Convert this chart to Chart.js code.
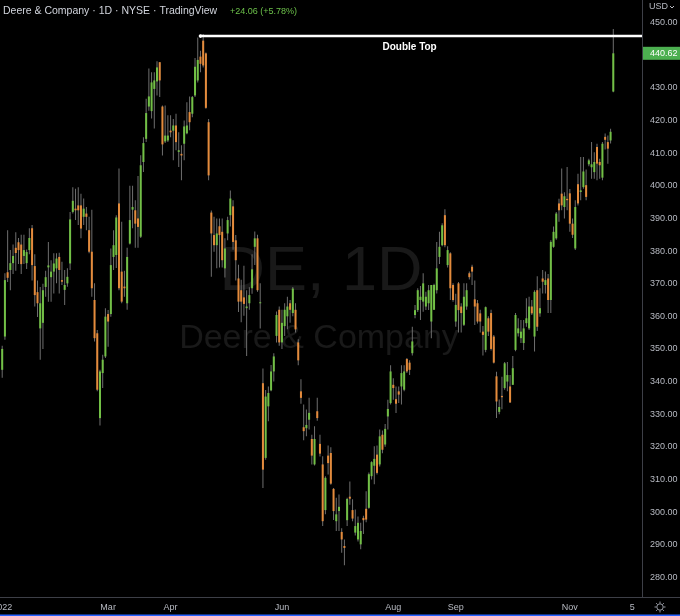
<!DOCTYPE html>
<html><head><meta charset="utf-8">
<script src="https://cdn.jsdelivr.net/npm/chart.js@4.4.0/dist/chart.umd.min.js"></script>
<style>html,body{margin:0;padding:0;background:#000;overflow:hidden}#wrap{width:680px;height:616px;position:relative}canvas{display:block}</style>
</head><body><div id="wrap"><canvas id="c" width="680" height="616"></canvas></div>
<script>
// ---- DATA ----
const dates = [
'2022-01-03','2022-01-04','2022-01-05','2022-01-06','2022-01-07','2022-01-10','2022-01-11','2022-01-12','2022-01-13','2022-01-14','2022-01-18','2022-01-19','2022-01-20','2022-01-21','2022-01-24','2022-01-25','2022-01-26','2022-01-27','2022-01-28','2022-01-31',
'2022-02-01','2022-02-02','2022-02-03','2022-02-04','2022-02-07','2022-02-08','2022-02-09','2022-02-10','2022-02-11','2022-02-14','2022-02-15','2022-02-16','2022-02-17','2022-02-18','2022-02-22','2022-02-23','2022-02-24','2022-02-25','2022-02-28',
'2022-03-01','2022-03-02','2022-03-03','2022-03-04','2022-03-07','2022-03-08','2022-03-09','2022-03-10','2022-03-11','2022-03-14','2022-03-15','2022-03-16','2022-03-17','2022-03-18','2022-03-21','2022-03-22','2022-03-23','2022-03-24','2022-03-25','2022-03-28','2022-03-29','2022-03-30','2022-03-31',
'2022-04-01','2022-04-04','2022-04-05','2022-04-06','2022-04-07','2022-04-08','2022-04-11','2022-04-12','2022-04-13','2022-04-14','2022-04-18','2022-04-19','2022-04-20','2022-04-21','2022-04-22','2022-04-25','2022-04-26','2022-04-27','2022-04-28','2022-04-29',
'2022-05-02','2022-05-03','2022-05-04','2022-05-05','2022-05-06','2022-05-09','2022-05-10','2022-05-11','2022-05-12','2022-05-13','2022-05-16','2022-05-17','2022-05-18','2022-05-19','2022-05-20','2022-05-23','2022-05-24','2022-05-25','2022-05-26','2022-05-27','2022-05-31',
'2022-06-01','2022-06-02','2022-06-03','2022-06-06','2022-06-07','2022-06-08','2022-06-09','2022-06-10','2022-06-13','2022-06-14','2022-06-15','2022-06-16','2022-06-17','2022-06-21','2022-06-22','2022-06-23','2022-06-24','2022-06-27','2022-06-28','2022-06-29','2022-06-30',
'2022-07-01','2022-07-05','2022-07-06','2022-07-07','2022-07-08','2022-07-11','2022-07-12','2022-07-13','2022-07-14','2022-07-15','2022-07-18','2022-07-19','2022-07-20','2022-07-21','2022-07-22','2022-07-25','2022-07-26','2022-07-27','2022-07-28','2022-07-29',
'2022-08-01','2022-08-02','2022-08-03','2022-08-04','2022-08-05','2022-08-08','2022-08-09','2022-08-10','2022-08-11','2022-08-12','2022-08-15','2022-08-16','2022-08-17','2022-08-18','2022-08-19','2022-08-22','2022-08-23','2022-08-24','2022-08-25','2022-08-26','2022-08-29','2022-08-30','2022-08-31',
'2022-09-01','2022-09-02','2022-09-06','2022-09-07','2022-09-08','2022-09-09','2022-09-12','2022-09-13','2022-09-14','2022-09-15','2022-09-16','2022-09-19','2022-09-20','2022-09-21','2022-09-22','2022-09-23','2022-09-26','2022-09-27','2022-09-28','2022-09-29','2022-09-30',
'2022-10-03','2022-10-04','2022-10-05','2022-10-06','2022-10-07','2022-10-10','2022-10-11','2022-10-12','2022-10-13','2022-10-14','2022-10-17','2022-10-18','2022-10-19','2022-10-20','2022-10-21','2022-10-24','2022-10-25','2022-10-26','2022-10-27','2022-10-28','2022-10-31',
'2022-11-01','2022-11-02','2022-11-03','2022-11-04','2022-11-07','2022-11-08','2022-11-09','2022-11-10','2022-11-11','2022-11-14','2022-11-15','2022-11-16','2022-11-17','2022-11-18','2022-11-21','2022-11-22','2022-11-23'
];
// empty future sessions shown at the right of the time axis
const futureDates = ['2022-11-25','2022-11-28','2022-11-29','2022-11-30','2022-12-01','2022-12-02','2022-12-05','2022-12-06','2022-12-07','2022-12-08','2022-12-09'];

const open = [
343.6,353.8,373.5,374.2,376.3,381.0,382.7,382.0,378.5,376.3,380.3,387.0,375.4,367.4,356.3,358.0,369.0,375.0,372.0,373.7,
374.7,378.2,371.1,368.1,370.1,376.2,392.0,393.0,394.0,394.0,390.5,391.5,386.4,379.8,365.0,354.8,328.8,342.6,347.7,
360.7,360.7,378.2,378.8,394.6,373.7,369.1,364.0,382.3,392.7,392.5,390.0,384.4,407.3,414.4,424.3,422.9,429.7,432.0,437.9,424.3,413.6,413.9,
416.9,416.9,418.5,410.4,409.8,412.9,416.1,422.6,422.1,427.7,432.3,439.6,444.5,440.6,419.5,391.8,384.9,381.8,387.6,385.9,
374.7,385.4,391.0,393.7,383.3,371.6,368.0,365.8,362.5,364.0,368.6,381.3,383.9,364.0,339.5,316.6,332.4,337.3,343.1,354.0,362.0,
352.0,357.0,360.0,364.0,361.0,362.0,352.0,337.0,326.0,325.7,328.3,322.4,314.6,330.9,320.9,314.6,300.6,317.3,318.1,307.1,297.2,
300.3,293.9,289.6,297.5,304.7,300.6,293.7,291.6,290.1,298.2,301.0,301.3,311.0,314.2,317.6,314.6,323.7,320.7,329.3,333.4,
339.0,334.6,337.0,338.5,337.5,346.9,345.8,348.7,360.4,361.9,365.0,364.5,363.0,364.0,358.4,362.0,368.0,378.2,381.8,391.0,375.7,379.3,369.6,
358.4,370.1,363.0,357.4,363.0,373.2,375.2,365.2,364.0,360.9,355.3,349.7,359.4,361.0,353.8,341.6,330.7,335.6,338.0,340.0,338.5,
339.0,349.7,354.8,353.3,351.8,357.9,356.3,363.0,353.8,368.0,360.9,371.6,369.6,371.6,365.0,381.3,383.9,394.6,397.6,393.5,396.0,
397.7,388.4,380.8,400.5,398.1,399.6,400.2,406.6,405.7,404.2,411.9,407.3,402.5,415.0,413.4,413.9,428.9
];
const high = [
351.0,373.2,386.4,380.3,382.0,385.8,384.0,385.0,385.0,380.5,387.0,388.0,379.0,371.0,369.0,370.0,374.0,382.8,377.2,379.3,
379.3,379.5,376.7,374.2,374.7,392.0,399.6,399.1,399.6,397.6,396.1,393.5,390.5,392.7,370.1,355.8,343.6,348.2,362.5,
361.9,380.8,386.4,391.0,405.3,389.0,374.0,381.0,400.0,400.0,395.6,403.0,409.4,414.9,426.7,436.0,434.8,434.8,438.2,437.9,424.6,424.6,421.6,
421.6,420.5,422.1,416.4,412.4,420.0,425.6,427.4,427.5,439.2,445.5,441.4,446.5,440.9,420.5,392.4,390.5,390.0,390.0,390.0,
383.9,390.5,398.6,395.6,384.9,375.8,371.2,375.5,368.0,368.9,379.0,386.0,385.0,370.1,344.0,337.4,338.5,345.1,348.7,361.5,363.0,
362.0,364.0,366.0,365.0,369.0,364.0,353.0,340.7,333.0,331.4,335.0,323.7,326.3,335.0,323.7,317.1,311.0,320.4,319.9,307.4,304.4,
305.4,295.0,291.6,304.4,309.4,303.9,300.8,298.6,296.7,298.9,306.4,312.1,315.6,320.2,320.4,325.3,325.0,327.0,334.4,345.0,
341.0,338.5,338.5,345.0,345.0,347.2,346.5,356.8,363.5,368.6,369.3,373.2,367.5,369.6,369.6,370.0,382.8,385.9,388.5,392.8,381.5,379.6,370.1,
366.9,370.5,364.0,370.1,370.1,373.7,375.8,371.0,365.0,362.0,357.0,363.0,360.0,362.0,354.3,343.0,334.5,341.5,346.0,346.0,342.0,
347.8,361.0,359.4,358.9,358.9,365.5,366.0,365.0,368.0,372.3,368.6,374.2,373.7,373.0,383.3,387.5,392.0,396.0,405.3,398.0,405.8,
399.0,390.0,395.6,403.7,408.8,408.8,405.0,408.3,413.4,410.3,412.9,408.3,413.4,416.0,415.4,417.5,448.1
];
const low = [
341.2,352.8,370.5,368.0,373.0,374.0,376.0,373.0,376.0,374.5,379.0,371.0,363.0,359.8,346.7,350.0,366.0,364.5,364.5,367.0,
370.1,367.0,369.6,363.5,369.1,374.2,391.5,389.5,388.0,383.9,388.0,386.4,379.3,366.0,352.3,337.0,326.5,338.0,347.2,
350.7,359.9,374.2,374.8,368.0,364.0,366.0,362.0,382.0,387.0,381.0,381.0,384.0,404.2,413.4,423.0,420.6,417.6,427.7,427.2,409.3,413.1,413.4,
414.9,407.8,410.9,405.8,401.7,407.8,415.8,417.0,421.0,427.2,431.7,434.8,436.3,423.6,401.7,372.1,379.8,374.7,375.0,375.0,
371.9,383.3,387.5,380.4,371.0,361.3,358.2,360.2,347.8,362.0,366.9,375.7,367.5,356.3,307.4,316.0,327.8,337.0,340.0,352.0,351.0,
350.0,354.0,356.0,358.0,360.0,355.0,345.0,333.2,322.0,323.2,325.3,314.6,314.3,328.0,317.0,295.7,299.3,311.5,308.4,297.6,294.2,
294.2,287.5,283.7,295.7,302.2,297.2,292.8,291.0,288.6,293.3,296.9,301.0,310.0,308.5,311.5,314.0,318.0,320.0,325.3,333.0,
334.4,330.4,333.4,333.0,337.0,342.6,342.0,348.0,359.4,361.3,358.9,361.4,361.9,361.9,353.3,362.0,367.0,376.0,381.5,381.2,375.0,365.0,364.5,
356.8,355.0,355.0,357.0,362.0,371.3,369.6,357.3,357.8,355.0,348.0,349.0,354.0,349.5,345.5,328.8,330.0,331.5,337.5,337.0,333.4,
339.0,349.3,353.8,351.8,349.7,356.8,355.8,360.4,349.2,355.5,359.9,367.0,367.0,361.0,361.0,381.0,383.5,389.0,392.5,390.0,392.5,
385.9,384.0,380.3,394.0,395.6,399.1,395.6,406.0,402.2,402.2,401.7,402.2,401.7,411.1,406.8,413.0,428.7
];
const close = [
350.0,371.1,371.8,376.3,378.5,379.4,380.3,376.0,380.3,379.7,384.0,375.7,366.5,364.0,364.0,368.0,372.0,375.6,373.7,376.2,
377.7,374.2,370.6,369.6,372.1,389.7,395.4,392.5,392.5,386.9,393.0,390.5,379.8,368.6,353.3,337.5,343.1,346.7,359.9,
358.4,375.7,381.8,390.3,368.6,364.5,368.6,378.2,389.5,393.5,388.4,387.4,406.3,413.1,422.3,427.4,431.7,432.3,436.3,432.3,412.7,415.4,415.4,
416.4,418.5,413.4,410.9,409.3,418.2,418.5,419.5,427.2,436.5,438.6,437.4,436.9,423.9,403.2,385.4,381.8,385.4,384.9,377.2,
380.8,389.5,396.1,382.8,377.2,364.5,364.5,363.8,363.0,366.5,374.4,383.9,368.0,364.3,313.0,335.4,336.5,343.1,347.7,360.4,352.0,
358.0,362.0,363.0,362.0,368.5,356.0,346.5,335.0,324.8,326.7,330.4,317.3,322.4,328.8,317.9,297.2,310.5,315.0,308.7,300.3,299.3,
301.6,291.6,289.0,304.0,304.1,298.0,295.7,296.7,294.2,297.5,297.7,311.6,315.3,316.3,312.0,323.2,319.1,325.5,331.6,343.1,
338.0,333.2,336.0,342.6,343.1,343.1,343.6,352.3,361.9,368.0,366.0,370.1,366.0,368.0,369.6,369.6,374.7,381.3,387.9,381.8,380.3,368.6,365.0,
363.5,361.9,361.0,366.0,368.0,372.0,373.7,363.0,358.4,358.4,354.3,362.8,355.3,350.0,345.8,333.9,332.2,335.2,345.6,342.0,333.6,
344.1,360.4,356.3,355.3,356.3,359.4,363.0,360.9,367.5,356.8,362.5,370.6,371.1,365.0,382.8,385.9,391.5,392.5,394.0,396.8,395.6,
388.4,385.0,393.5,394.6,398.6,404.4,396.6,407.8,406.6,407.3,406.8,406.3,412.9,414.1,411.4,416.56,440.62
];

const xTickDates  = ['2022-01-03','2022-03-01','2022-04-01','2022-06-01','2022-08-01','2022-09-01','2022-11-01','2022-12-05'];
const xTickLabels = ['2022','Mar','Apr','Jun','Aug','Sep','Nov','5'];
const yTickValues = [280,290,300,310,320,330,340,350,360,370,380,390,400,410,420,430,440,450];

const titleText = 'Deere & Company · 1D · NYSE · TradingView';
const watermarkSymbol = 'DE, 1D';
const watermarkName = 'Deere & Company';
const doubleTopStart = '2022-04-19';
const doubleTopLevel = 445.9;
const doubleTopText = 'Double Top';
const doubleTopLabelDate = '2022-08-09';

// ---- STYLE ----
const UP = '#72c046', DOWN = '#e48b3c', WICK = '#6e6e6e';
const AXIS_LINE = '#3d3f47', AXIS_TEXT = '#b7bac2';
const FONT = '"Liberation Sans", Arial, sans-serif';

const axisDates = dates.concat(futureDates);
const idx = d => axisDates.indexOf(d);
const xTickIdx = xTickDates.map(idx);
const last = close.length - 1;
const chg = close[last] - close[last - 1];
const chgPct = chg / close[last - 1] * 100;
const changeText = (chg >= 0 ? '+' : '') + chg.toFixed(2) + ' (' + (chg >= 0 ? '+' : '') + chgPct.toFixed(2) + '%)';

const wickData = dates.map((d, i) => ({x: i, y: [low[i], high[i]]}));
const bodyData = dates.map((d, i) => ({x: i, y: [open[i], close[i]]}));

const decor = {
  id: 'decor',
  beforeDatasetsDraw(chart) {
    const {ctx, chartArea: a} = chart;
    const cx = (a.left + a.right) / 2;
    ctx.save();
    ctx.fillStyle = '#191919';
    ctx.textAlign = 'center';
    ctx.textBaseline = 'alphabetic';
    ctx.font = '63px ' + FONT;
    ctx.fillText(watermarkSymbol, cx, 290);
    ctx.font = '34px ' + FONT;
    ctx.fillText(watermarkName, cx - 2, 348);
    ctx.restore();
  },
  afterDraw(chart) {
    const {ctx, chartArea: a, scales} = chart;
    const xs = scales.x, ys = scales.y;
    ctx.save();
    // title
    ctx.textBaseline = 'alphabetic';
    ctx.textAlign = 'left';
    ctx.font = '10.5px ' + FONT;
    ctx.fillStyle = '#d1d4dc';
    ctx.fillText(titleText, 3, 14);
    ctx.font = '9px ' + FONT;
    ctx.fillStyle = '#6cc04a';
    ctx.fillText(changeText, 230, 14);
    // double top label
    const ly = ys.getPixelForValue(doubleTopLevel);
    ctx.font = 'bold 10px ' + FONT;
    ctx.fillStyle = '#ffffff';
    ctx.textAlign = 'center';
    ctx.fillText(doubleTopText, xs.getPixelForValue(idx(doubleTopLabelDate)), ly + 14);
    // bottom axis line across
    ctx.fillStyle = AXIS_LINE;
    ctx.fillRect(0, a.bottom, chart.width, 1);
    // last price label
    const py = ys.getPixelForValue(close[last]);
    ctx.fillStyle = '#4caf50';
    ctx.fillRect(a.right + 1, py - 6.5, chart.width - a.right - 1, 13);
    ctx.fillStyle = '#ffffff';
    ctx.textAlign = 'left';
    ctx.textBaseline = 'middle';
    ctx.font = '9px ' + FONT;
    ctx.fillText(close[last].toFixed(2), a.right + 8, py + 0.5);
    // currency
    ctx.fillStyle = AXIS_TEXT;
    ctx.fillText('USD', a.right + 7, 7);
    ctx.strokeStyle = AXIS_TEXT;
    ctx.lineWidth = 1;
    ctx.beginPath();
    ctx.moveTo(a.right + 28, 6); ctx.lineTo(a.right + 30, 8); ctx.lineTo(a.right + 32, 6);
    ctx.stroke();
    // gear icon
    const gx = 660, gy = 607;
    ctx.strokeStyle = '#9598a1';
    ctx.beginPath(); ctx.arc(gx, gy, 3.2, 0, Math.PI * 2); ctx.stroke();
    for (let k = 0; k < 8; k++) {
      const an = k * Math.PI / 4;
      ctx.beginPath();
      ctx.moveTo(gx + Math.cos(an) * 3.5, gy + Math.sin(an) * 3.5);
      ctx.lineTo(gx + Math.cos(an) * 5.5, gy + Math.sin(an) * 5.5);
      ctx.stroke();
    }
    // bottom focus line
    ctx.fillStyle = '#2962ff';
    ctx.fillRect(0, chart.height - 1.5, chart.width, 1.5);
    ctx.restore();
  }
};

new Chart(document.getElementById('c'), {
  type: 'bar',
  data: {
    datasets: [
      {
        type: 'line',
        data: [{x: idx(doubleTopStart), y: doubleTopLevel}, {x: axisDates.length, y: doubleTopLevel}],
        borderColor: '#ffffff', borderWidth: 2.5,
        pointRadius: [1.8, 0], pointBackgroundColor: '#ffffff', pointBorderWidth: 0,
        clip: 0, order: 0
      },
      {
        data: wickData, backgroundColor: WICK, grouped: false,
        barPercentage: 0.37, categoryPercentage: 1, order: 2
      },
      {
        data: bodyData,
        backgroundColor: c => (close[c.dataIndex] >= open[c.dataIndex] ? UP : DOWN),
        grouped: false, barPercentage: 0.74, categoryPercentage: 1, minBarLength: 1, order: 1
      }
    ]
  },
  options: {
    responsive: false, animation: false, devicePixelRatio: 1,
    layout: {padding: 0, autoPadding: false},
    plugins: {legend: {display: false}, tooltip: {enabled: false}},
    scales: {
      x: {
        type: 'linear', min: -0.81, max: 235.57, offset: false,
        grid: {display: false, drawTicks: false}, border: {display: false},
        afterBuildTicks: s => { s.ticks = xTickIdx.map(v => ({value: v})); },
        afterFit: s => { s.height = 19; s.paddingLeft = 0; s.paddingRight = 0; },
        ticks: {
          autoSkip: false, maxRotation: 0, minRotation: 0, padding: 5,
          color: AXIS_TEXT, font: {family: FONT, size: 9},
          callback: v => xTickLabels[xTickIdx.indexOf(v)]
        }
      },
      y: {
        position: 'right', min: 273.96, max: 456.96,
        grid: {display: false, drawTicks: false},
        border: {display: true, color: AXIS_LINE},
        afterBuildTicks: s => { s.ticks = yTickValues.map(v => ({value: v})); },
        afterFit: s => { s.width = 38; s.paddingTop = 0; s.paddingBottom = 0; },
        ticks: {
          padding: 8, color: AXIS_TEXT, font: {family: FONT, size: 9},
          callback: v => Number(v).toFixed(2)
        }
      }
    }
  },
  plugins: [decor]
});
</script>
</body></html>
